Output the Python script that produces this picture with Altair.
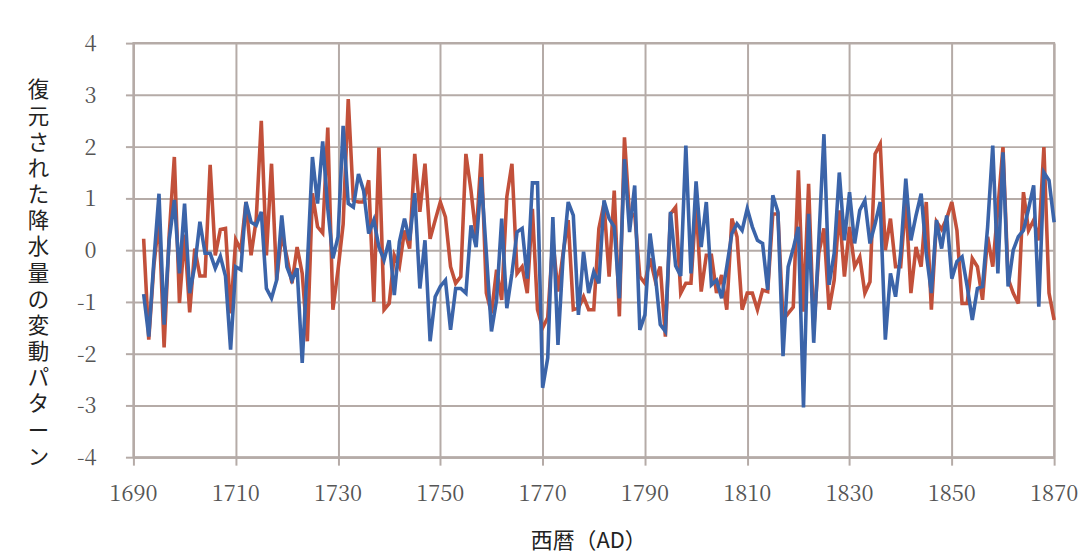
import altair as alt
import pandas as pd

# Years of the reconstruction
years = list(range(1692, 1871))

# Red series (one value per year, 1692-1870)
red = [
    0.22, -1.73, -0.3, 0.6, -1.88, 0.3, 1.8, -1.02,            # 1692-1699
    0.3, -1.2, 0.03, -0.5, -0.5, 1.65, -0.1, 0.4, 0.42, -1.22,  # 1700-1709
    0.2, 0.0, 0.93, -0.1, 0.58, 2.5, -0.1, 1.67, -0.58, 0.3,    # 1710-1719
    -0.13, -0.64, 0.06, -0.45, -1.76, 1.1, 0.45, 0.33, 2.37, -1.15,  # 1720-1729
    -0.38, 0.5, 2.92, 0.96, 0.93, 0.93, 1.35, -1.0, 1.98, -1.15,     # 1730-1739
    -1.03, -0.1, -0.32, 0.38, 0.03, 1.86, 0.74, 1.67, 0.22, 0.58,    # 1740-1749
    0.93, 0.64, -0.32, -0.64, -0.51, 1.86, 1.15, 0.26, 1.86, -0.83,  # 1750-1759
    -1.22, -0.38, -0.96, 1.03, 1.67, -0.45, -0.32, -0.83, 0.8, -1.15,  # 1760-1769
    -1.5, -1.3, 0.2, -0.8, -0.06, 0.58, -1.15, -1.12, -0.9, -1.15,   # 1770-1779
    -1.15, 0.42, 0.9, -0.51, 1.15, -1.28, 2.18, 0.64, 0.7, -0.51,    # 1780-1789
    -0.64, -0.16, -0.58, -0.32, -1.67, 0.7, 0.83, -0.83, -0.64, -0.64,  # 1790-1799
    0.9, -0.8, -0.1, -0.1, -0.83, -0.48, -1.15, 0.61, 0.26, -1.15,   # 1800-1809
    -0.83, -0.83, -1.15, -0.77, -0.8, 0.7, 0.7, -1.35, -1.22, -1.1,  # 1810-1819
    1.54, -1.19, 1.28, -1.54, -0.06, 0.42, -1.15, -0.58, 0.77, -0.51,  # 1820-1829
    0.45, -0.32, -0.13, -0.83, -0.61, 1.86, 2.05, 0.0, 0.61, -0.32,  # 1830-1839
    -0.32, 0.96, -0.83, 0.06, -0.32, 0.93, -1.15, 0.55, 0.4, 0.61,   # 1840-1849
    0.93, 0.38, -1.03, -1.03, -0.16, -0.32, -0.96, 0.26, -0.32, 0.8,  # 1850-1859
    1.99, -0.55, -0.83, -1.03, 1.12, 0.38, 0.58, 0.19, 1.99, -0.83,  # 1860-1869
    -1.35,                                                           # 1870
]

# Blue series (one value per year, 1692-1870)
blue = [
    -0.85, -1.67, -0.2, 1.09, -1.44, 0.2, 0.97, -0.45,              # 1692-1699
    0.9, -0.83, -0.3, 0.55, -0.06, -0.06, -0.35, -0.12, -0.5, -1.92,  # 1700-1709
    -0.32, -0.38, 0.93, 0.54, 0.48, 0.74, -0.74, -0.93, -0.58, 0.67,  # 1710-1719
    -0.32, -0.58, -0.35, -2.18, -0.3, 1.8, 0.9, 2.1, 0.8, -0.16,     # 1720-1729
    0.26, 2.4, 0.9, 0.83, 1.47, 1.15, 0.32, 0.58, 0.06, -0.19,       # 1730-1739
    0.19, -0.87, 0.16, 0.61, 0.19, 1.1, -0.74, 0.19, -1.76, -0.9,    # 1740-1749
    -0.7, -0.58, -1.54, -0.74, -0.74, -0.83, 0.48, 0.06, 1.41, -0.06,  # 1750-1759
    -1.57, -0.96, 0.61, -1.12, -0.45, 0.35, 0.42, -0.55, 1.3, 1.3,   # 1760-1769
    -2.66, -2.08, 0.64, -1.83, -0.13, 0.93, 0.67, -1.25, -0.03, -0.83,  # 1770-1779
    -0.42, -0.64, 0.96, 0.61, 0.45, -0.93, 1.76, 0.35, 1.25, -1.54,  # 1780-1789
    -1.25, 0.32, -0.45, -1.44, -1.57, 0.74, -0.3, -0.5, 2.02, -0.45,  # 1790-1799
    1.33, 0.06, 0.93, -0.67, -0.58, -0.93, -0.32, 0.32, 0.51, 0.38,  # 1800-1809
    0.8, 0.45, 0.19, 0.13, -0.77, 1.06, 0.74, -2.05, -0.32, 0.03,    # 1810-1819
    0.45, -3.04, 0.7, -1.79, 0.2, 2.24, -0.67, -0.06, 1.5, 0.19,     # 1820-1829
    1.12, 0.13, 0.77, 0.96, 0.13, 0.51, 0.93, -1.73, -0.45, -0.9,    # 1830-1839
    -0.06, 1.38, 0.19, 0.67, 1.09, -0.06, -0.83, 0.58, 0.03, 0.67,   # 1840-1849
    -0.55, -0.22, -0.13, -0.7, -1.35, -0.74, -0.7, 0.45, 2.02, -0.45,  # 1850-1859
    1.89, -0.7, 0.0, 0.26, 0.38, 0.8, 1.25, -1.09, 1.5, 1.35,        # 1860-1869
    0.54,                                                            # 1870
]

x_ticks = list(range(1690, 1871, 20))
y_ticks = list(range(-4, 5))
x_tick_labels = [str(v) for v in x_ticks]
y_tick_labels = [str(v) for v in y_ticks]
y_title = list("復元された降水量の変動パターン")
x_title = "西暦（AD）"

red_df = pd.DataFrame({"year": years, "value": red})
blue_df = pd.DataFrame({"year": years, "value": blue})
xlab_df = pd.DataFrame({"year": x_ticks, "value": [y_ticks[0]] * len(x_ticks), "label": x_tick_labels})
ylab_df = pd.DataFrame({"year": [x_ticks[0]] * len(y_ticks), "value": y_ticks, "label": y_tick_labels})

GRID = "#b5aba7"
NUM_FONT = "Noto Serif CJK JP"
LABEL_COLOR = "#555555"

x_scale = alt.Scale(domain=[1690, 1870], nice=False, zero=False)
y_scale = alt.Scale(domain=[-4, 4], nice=False, zero=False)

x_axis = alt.Axis(
    values=x_ticks,
    labels=False,
    title=x_title,
    titleFont="Noto Sans CJK JP",
    titleFontSize=22,
    titleFontWeight="normal",
    titleColor="#222222",
    titleBaseline="middle",
    titleY=84,
    titleX=457,
)
y_axis = alt.Axis(
    values=y_ticks,
    labels=False,
    title=y_title,
    titleAngle=0,
    titleAlign="center",
    titleBaseline="middle",
    titleX=-96,
    titleY=48,
    titleLineHeight=26.3,
    titleFont="Noto Sans CJK JP",
    titleFontSize=21.5,
    titleFontWeight="normal",
    titleColor="#222222",
)

X = alt.X("year:Q", scale=x_scale, axis=x_axis)
Y = alt.Y("value:Q", scale=y_scale, axis=y_axis)

red_line = alt.Chart(red_df).mark_line(color="#c2503a", strokeWidth=3.6).encode(x=X, y=Y)
blue_line = alt.Chart(blue_df).mark_line(color="#3b64a9", strokeWidth=3.6).encode(x=X, y=Y)

x_labels = alt.Chart(xlab_df).mark_text(
    font=NUM_FONT, fontSize=22, color=LABEL_COLOR, align="center", baseline="alphabetic", dy=44
).encode(x=X, y=Y, text="label:N")
y_labels = alt.Chart(ylab_df).mark_text(
    font=NUM_FONT, fontSize=22, color=LABEL_COLOR, align="right", baseline="alphabetic", dx=-37, dy=8
).encode(x=X, y=Y, text="label:N")

chart = (
    alt.layer(red_line, blue_line, x_labels, y_labels)
    .properties(
        width=925,
        height=416,
        autosize=alt.AutoSizeParams(type="none"),
        padding={"left": 126, "top": 34, "right": 28, "bottom": 98},
        background="#ffffff",
    )
    .configure_view(stroke=GRID, strokeWidth=2, clip=False)
    .configure_axis(
        domainColor=GRID,
        domainWidth=2,
        tickColor=GRID,
        tickWidth=2,
        tickSize=8,
        gridColor=GRID,
        gridWidth=2,
        gridOpacity=1,
    )
)

chart.save("out.html", embed_options={"renderer": "svg", "actions": False})
